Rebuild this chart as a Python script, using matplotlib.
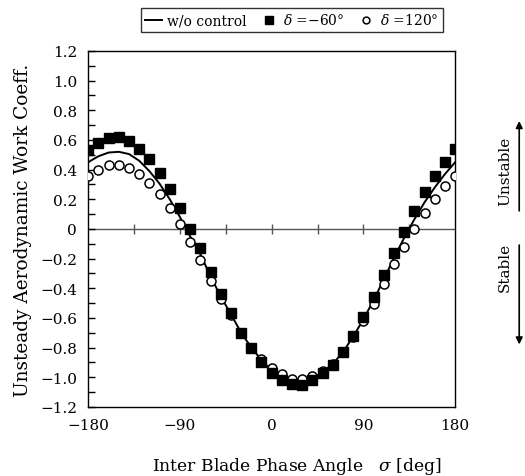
import numpy as np
import matplotlib
matplotlib.use("Agg")
import matplotlib.pyplot as plt

plt.rcParams['font.family'] = 'DejaVu Serif'
plt.rcParams['mathtext.fontset'] = 'dejavuserif'

# inter blade phase angle, every 10 deg
sigma = np.arange(-180, 181, 10)

# w/o control
base = [0.45, 0.49, 0.515, 0.52, 0.505, 0.46, 0.39, 0.305, 0.20, 0.08,
        -0.05, -0.17, -0.32, -0.455, -0.575, -0.70, -0.80, -0.885, -0.955,
        -1.00, -1.03, -1.035, -1.01, -0.965, -0.91, -0.83, -0.725, -0.61,
        -0.48, -0.34, -0.195, -0.06, 0.065, 0.18, 0.28, 0.37, 0.45]

# delta = -60 deg
d_m60 = [0.53, 0.58, 0.61, 0.62, 0.59, 0.54, 0.47, 0.38, 0.27, 0.14,
         0.00, -0.13, -0.29, -0.44, -0.57, -0.70, -0.80, -0.90, -0.97,
         -1.02, -1.045, -1.05, -1.02, -0.975, -0.915, -0.83, -0.72, -0.595,
         -0.46, -0.31, -0.16, -0.02, 0.12, 0.25, 0.36, 0.45, 0.54]

# delta = 120 deg
d_120 = [0.36, 0.40, 0.43, 0.43, 0.41, 0.37, 0.31, 0.235, 0.14, 0.03,
         -0.085, -0.21, -0.35, -0.47, -0.58, -0.70, -0.80, -0.875, -0.94,
         -0.98, -1.01, -1.015, -0.99, -0.955, -0.91, -0.83, -0.73, -0.62,
         -0.505, -0.37, -0.24, -0.12, 0.0, 0.106, 0.20, 0.29, 0.36]

xticks = [-180, -90, 0, 90, 180]
yticks = np.round(np.arange(-1.2, 1.21, 0.2), 1)

fig = plt.figure(figsize=(5.25, 4.77), dpi=100)
ax = fig.add_axes([0.168, 0.145, 0.699, 0.746])

ax.axhline(0, color='#555555', lw=1.0, zorder=1)
# small ticks on the zero line
zt = np.arange(-135, 136, 45)
ax.plot(zt, np.zeros_like(zt), ls='none', marker='|', ms=7, mew=1.0,
        color='#555555', zorder=1)

ax.plot(sigma, base, color='black', lw=1.4, zorder=2, label='w/o control')
ax.plot(sigma, d_120, ls='none', marker='o', ms=6.5, mfc='white', mec='black',
        mew=1.1, zorder=3, label=r'$\delta$ =120°')
ax.plot(sigma, d_m60, ls='none', marker='s', ms=7, mfc='black', mec='black',
        zorder=4, label=r'$\delta$ =−60°')

ax.set_xlim(-180, 180)
ax.set_ylim(-1.2, 1.2)
ax.set_xticks(xticks)
ax.set_xticklabels([str(v).replace('-', '−') for v in xticks])
ax.set_yticks(yticks)
ax.set_yticklabels(['0' if v == 0 else ('%.1f' % v).replace('-', '−') for v in yticks])
ax.set_yticks(np.round(np.arange(-1.1, 1.2, 0.2), 1), minor=True)
ax.tick_params(axis='x', length=0, pad=8, labelsize=11)
ax.tick_params(axis='y', which='both', direction='in', length=5, width=1,
               labelsize=11, pad=8)
for s in ax.spines.values():
    s.set_linewidth(1.0)

ax.set_xlabel(r'Inter Blade Phase Angle   $\sigma$ [deg]', fontsize=12.3)
ax.xaxis.set_label_coords(0.57, -0.135)
ax.set_ylabel('Unsteady Aerodynamic Work Coeff.', fontsize=13.3, labelpad=6)

h, l = ax.get_legend_handles_labels()
order = [0, 2, 1]
fig.legend([h[i] for i in order], [l[i] for i in order], loc='upper center',
           bbox_to_anchor=(0.556, 0.995), ncol=3, frameon=True, fancybox=False,
           edgecolor='black', fontsize=10, handlelength=1.2, handletextpad=0.4,
           columnspacing=1.0, borderpad=0.3, markerscale=0.75)

# stability hints on the right
fig.text(0.962, 0.64, 'Unstable', rotation=90, ha='center', va='center', fontsize=11)
fig.text(0.962, 0.44, 'Stable', rotation=90, ha='center', va='center', fontsize=11)
ax.annotate('', xy=(0.989, 0.75), xytext=(0.989, 0.55), xycoords='figure fraction',
            arrowprops=dict(arrowstyle='-|>', color='black', lw=1.2))
ax.annotate('', xy=(0.989, 0.27), xytext=(0.989, 0.49), xycoords='figure fraction',
            arrowprops=dict(arrowstyle='-|>', color='black', lw=1.2))

fig.savefig('out.png', dpi=100)
